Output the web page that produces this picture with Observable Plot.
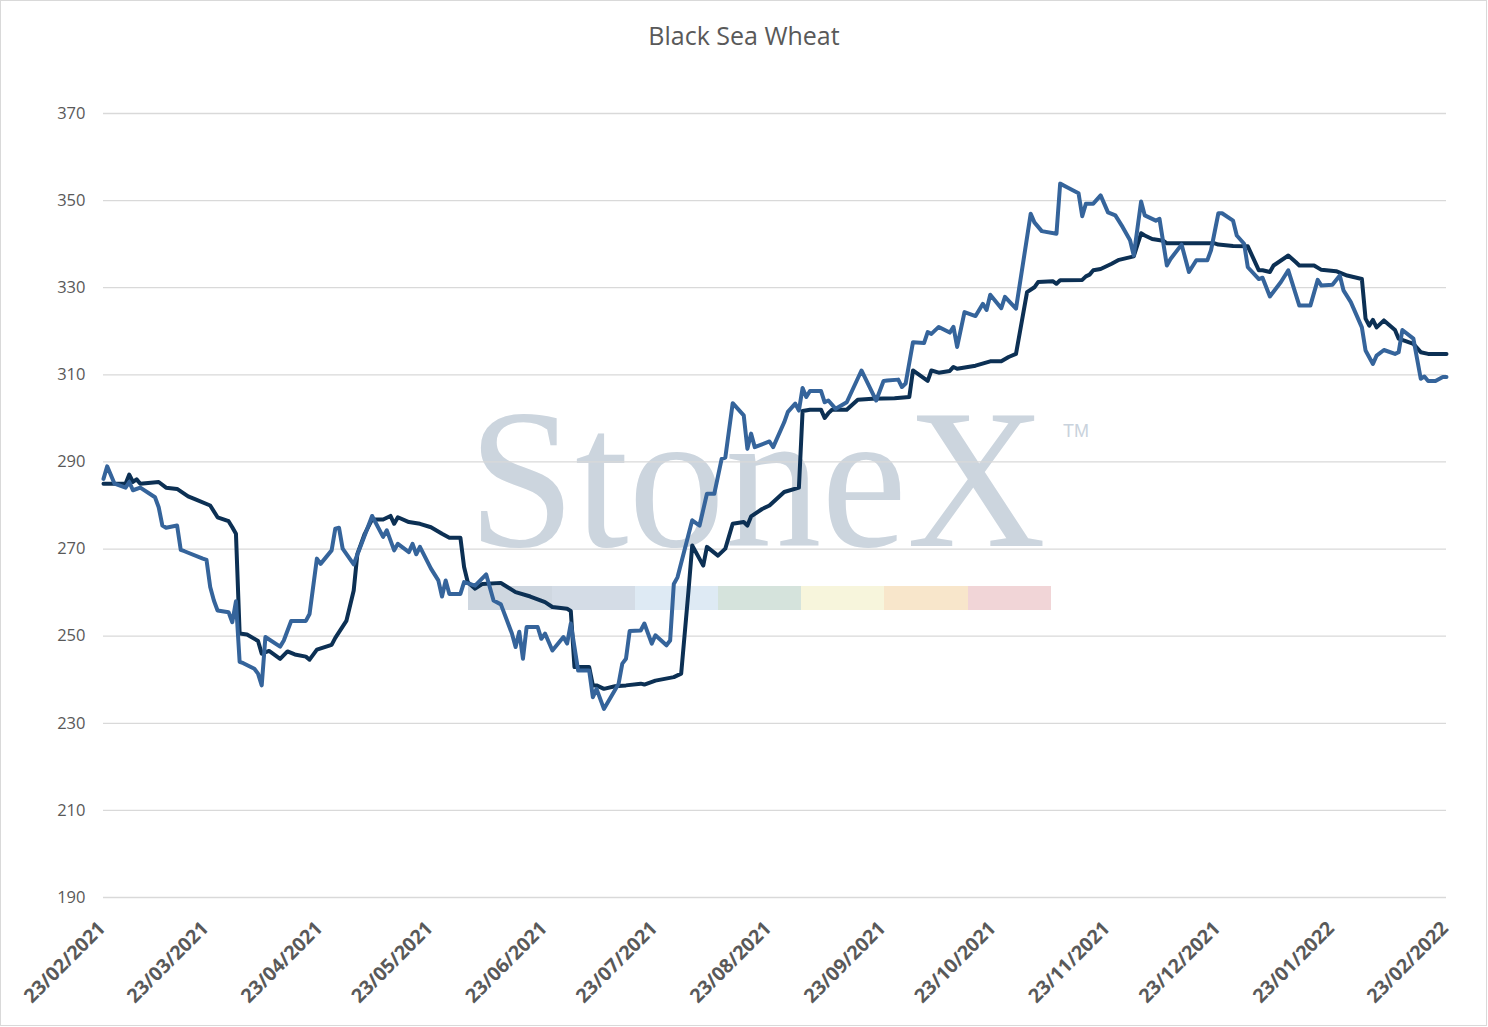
<!DOCTYPE html>
<html>
<head>
<meta charset="utf-8">
<script src="https://cdn.jsdelivr.net/npm/d3@7"></script>
<script src="https://cdn.jsdelivr.net/npm/@observablehq/plot@0.6"></script>
<style>
  html, body { margin: 0; padding: 0; background: #fff; }
  #wrap { position: relative; width: 1488px; height: 1027px; overflow: hidden; background: #fff; }
  #frame { position: absolute; left: 0; top: 0; width: 1487px; height: 1026px; box-sizing: border-box; border: 1px solid #d9d9d9; pointer-events: none; z-index: 3; }
  #wm { position: absolute; left: 0; top: 0; z-index: 0; }
  #title { position: relative; z-index: 2; height: 60px; box-sizing: border-box; padding-top: 23px; line-height: 25px;
           text-align: center; font-family: "Open Sans", sans-serif; font-size: 25px; color: #595959; }
  #chart { position: relative; z-index: 1; }
</style>
</head>
<body>
<div id="wrap">
  <svg id="wm" width="1488" height="1027">
    <text transform="translate(468,546) scale(0.963,1)" font-family="Liberation Serif, serif" font-size="200" fill="#ccd5de">StoneX</text>
    <text x="1063" y="437" font-family="Liberation Sans, sans-serif" font-size="18" fill="#c9d2dc">TM</text>
    <rect x="468" y="586" width="84" height="24" fill="#cfd7e0"/>
    <rect x="552" y="586" width="83" height="24" fill="#d4dce6"/>
    <rect x="635" y="586" width="83" height="24" fill="#deeaf4"/>
    <rect x="718" y="586" width="83" height="24" fill="#d5e3dc"/>
    <rect x="801" y="586" width="83" height="24" fill="#f7f5dc"/>
    <rect x="884" y="586" width="84" height="24" fill="#f8e6cb"/>
    <rect x="968" y="586" width="83" height="24" fill="#f1d5d7"/>
  </svg>
  <div id="title">Black Sea Wheat</div>
  <div id="chart"></div>
  <div id="frame"></div>
</div>
<script>
const titleText = "Black Sea Wheat";
const yTicks = [190, 210, 230, 250, 270, 290, 310, 330, 350, 370];
const xTickDates = ["2021-02-23","2021-03-23","2021-04-23","2021-05-23","2021-06-23","2021-07-23","2021-08-23","2021-09-23","2021-10-23","2021-11-23","2021-12-23","2022-01-23","2022-02-23"];
const xDomain = ["2021-02-23", "2022-02-23"];

// dark navy series
const seriesNavy = [
["2021-02-23",285.0],["2021-03-01",285.0],["2021-03-02",287.1],["2021-03-03",285.4],["2021-03-04",286.0],["2021-03-05",285.0],["2021-03-10",285.4],["2021-03-12",284.1],["2021-03-15",283.8],["2021-03-18",282.1],["2021-03-20",281.4],["2021-03-24",280.0],["2021-03-26",277.3],["2021-03-29",276.4],["2021-03-30",275.0],["2021-03-31",273.5],["2021-04-01",250.6],["2021-04-03",250.4],["2021-04-06",248.9],["2021-04-07",246.0],["2021-04-09",246.6],["2021-04-12",244.8],["2021-04-14",246.5],["2021-04-16",245.8],["2021-04-19",245.3],["2021-04-20",244.6],["2021-04-22",246.9],["2021-04-26",248.0],["2021-04-27",249.6],["2021-04-30",253.5],["2021-05-02",260.5],["2021-05-03",268.9],["2021-05-05",273.5],["2021-05-07",276.8],["2021-05-10",276.8],["2021-05-12",277.6],["2021-05-13",275.8],["2021-05-14",277.3],["2021-05-17",276.2],["2021-05-20",275.8],["2021-05-23",275.0],["2021-05-26",273.5],["2021-05-28",272.6],["2021-05-31",272.6],["2021-06-01",265.9],["2021-06-02",262.4],["2021-06-04",260.9],["2021-06-06",262.0],["2021-06-11",262.2],["2021-06-15",260.1],["2021-06-19",259.1],["2021-06-23",257.8],["2021-06-25",256.7],["2021-06-29",256.3],["2021-06-30",255.8],["2021-07-01",242.9],["2021-07-05",242.9],["2021-07-06",238.7],["2021-07-07",238.7],["2021-07-09",237.9],["2021-07-12",238.5],["2021-07-15",238.7],["2021-07-19",239.1],["2021-07-20",238.9],["2021-07-23",239.8],["2021-07-28",240.6],["2021-07-30",241.4],["2021-08-01",260.5],["2021-08-02",270.8],["2021-08-05",266.2],["2021-08-06",270.5],["2021-08-09",268.5],["2021-08-11",270.1],["2021-08-13",275.8],["2021-08-16",276.2],["2021-08-17",275.4],["2021-08-18",277.5],["2021-08-21",279.2],["2021-08-23",280.0],["2021-08-27",283.1],["2021-08-31",284.1],["2021-09-01",301.7],["2021-09-03",302.0],["2021-09-06",302.0],["2021-09-07",300.1],["2021-09-08",301.2],["2021-09-09",302.0],["2021-09-13",302.0],["2021-09-16",304.3],["2021-09-20",304.5],["2021-09-26",304.6],["2021-09-30",304.9],["2021-10-01",311.0],["2021-10-05",308.6],["2021-10-06",311.0],["2021-10-08",310.5],["2021-10-11",310.9],["2021-10-12",311.8],["2021-10-13",311.4],["2021-10-18",312.1],["2021-10-22",313.1],["2021-10-25",313.1],["2021-10-27",314.1],["2021-10-29",314.8],["2021-11-01",329.0],["2021-11-03",330.1],["2021-11-04",331.3],["2021-11-08",331.5],["2021-11-09",330.9],["2021-11-10",331.7],["2021-11-16",331.8],["2021-11-17",332.6],["2021-11-18",333.0],["2021-11-19",334.0],["2021-11-21",334.3],["2021-11-24",335.5],["2021-11-26",336.4],["2021-11-30",337.2],["2021-12-02",342.5],["2021-12-03",342.0],["2021-12-05",341.2],["2021-12-08",340.8],["2021-12-09",340.2],["2021-12-22",340.2],["2021-12-23",339.9],["2021-12-27",339.6],["2021-12-31",339.5],["2022-01-03",334.0],["2022-01-04",334.0],["2022-01-06",333.6],["2022-01-07",335.1],["2022-01-11",337.4],["2022-01-13",335.9],["2022-01-14",335.1],["2022-01-18",335.1],["2022-01-20",334.1],["2022-01-24",333.8],["2022-01-27",332.8],["2022-01-31",332.0],["2022-02-01",322.9],["2022-02-02",321.3],["2022-02-03",322.6],["2022-02-04",320.9],["2022-02-06",322.5],["2022-02-09",320.3],["2022-02-10",318.3],["2022-02-14",317.1],["2022-02-16",315.2],["2022-02-18",314.8],["2022-02-23",314.8]
];

// medium blue series
const seriesBlue = [
["2021-02-23",286.1],["2021-02-24",289.0],["2021-02-26",285.0],["2021-03-01",284.1],["2021-03-02",285.4],["2021-03-03",283.5],["2021-03-05",284.1],["2021-03-09",281.9],["2021-03-10",279.6],["2021-03-11",275.4],["2021-03-12",274.9],["2021-03-15",275.4],["2021-03-16",269.8],["2021-03-17",269.5],["2021-03-22",267.8],["2021-03-23",267.5],["2021-03-24",261.3],["2021-03-25",258.2],["2021-03-26",255.9],["2021-03-29",255.5],["2021-03-30",253.2],["2021-03-31",258.0],["2021-04-01",244.1],["2021-04-02",243.8],["2021-04-05",242.5],["2021-04-06",241.4],["2021-04-07",238.7],["2021-04-08",249.8],["2021-04-12",247.6],["2021-04-13",249.0],["2021-04-15",253.5],["2021-04-19",253.5],["2021-04-20",255.1],["2021-04-22",267.8],["2021-04-23",266.6],["2021-04-26",269.7],["2021-04-27",274.7],["2021-04-28",274.9],["2021-04-29",270.1],["2021-05-02",266.5],["2021-05-07",277.6],["2021-05-10",272.8],["2021-05-11",274.3],["2021-05-13",269.7],["2021-05-14",271.2],["2021-05-17",269.3],["2021-05-18",271.2],["2021-05-19",268.8],["2021-05-20",270.5],["2021-05-23",265.5],["2021-05-25",262.8],["2021-05-26",259.1],["2021-05-27",262.8],["2021-05-28",259.7],["2021-05-31",259.7],["2021-06-01",262.4],["2021-06-04",261.6],["2021-06-07",264.2],["2021-06-09",258.2],["2021-06-11",257.3],["2021-06-14",250.6],["2021-06-15",247.5],["2021-06-16",251.0],["2021-06-17",244.8],["2021-06-18",252.1],["2021-06-21",252.1],["2021-06-22",249.4],["2021-06-23",250.6],["2021-06-25",246.7],["2021-06-28",249.8],["2021-06-29",248.3],["2021-06-30",252.9],["2021-07-02",242.1],["2021-07-05",242.1],["2021-07-06",236.0],["2021-07-07",237.9],["2021-07-09",233.3],["2021-07-13",239.1],["2021-07-14",243.7],["2021-07-15",244.8],["2021-07-16",251.2],["2021-07-19",251.3],["2021-07-20",252.9],["2021-07-22",248.3],["2021-07-23",250.2],["2021-07-26",247.9],["2021-07-27",249.0],["2021-07-28",262.0],["2021-07-29",263.5],["2021-08-02",276.6],["2021-08-04",275.4],["2021-08-06",282.7],["2021-08-08",282.7],["2021-08-10",290.7],["2021-08-11",291.0],["2021-08-13",303.5],["2021-08-16",300.7],["2021-08-17",293.0],["2021-08-18",296.5],["2021-08-19",293.4],["2021-08-23",294.7],["2021-08-24",293.4],["2021-08-27",299.1],["2021-08-28",301.5],["2021-08-30",303.4],["2021-08-31",301.8],["2021-09-01",307.0],["2021-09-02",304.9],["2021-09-03",306.3],["2021-09-06",306.3],["2021-09-07",303.7],["2021-09-08",304.1],["2021-09-10",302.2],["2021-09-13",303.7],["2021-09-17",311.0],["2021-09-21",304.1],["2021-09-23",308.6],["2021-09-24",308.7],["2021-09-27",308.9],["2021-09-28",307.2],["2021-09-29",308.0],["2021-10-01",317.5],["2021-10-04",317.3],["2021-10-05",319.8],["2021-10-06",319.4],["2021-10-08",321.0],["2021-10-11",319.7],["2021-10-12",321.0],["2021-10-13",316.4],["2021-10-15",324.4],["2021-10-18",323.5],["2021-10-20",326.3],["2021-10-21",324.9],["2021-10-22",328.4],["2021-10-25",325.3],["2021-10-26",327.9],["2021-10-29",325.2],["2021-11-02",347.0],["2021-11-03",345.0],["2021-11-05",343.0],["2021-11-09",342.4],["2021-11-10",353.9],["2021-11-12",353.0],["2021-11-15",351.7],["2021-11-16",346.4],["2021-11-17",349.3],["2021-11-19",349.3],["2021-11-21",351.2],["2021-11-23",347.3],["2021-11-25",346.6],["2021-11-27",343.9],["2021-11-29",340.9],["2021-11-30",337.4],["2021-12-02",349.8],["2021-12-03",346.6],["2021-12-04",346.2],["2021-12-06",345.4],["2021-12-07",345.8],["2021-12-09",335.1],["2021-12-10",336.6],["2021-12-13",339.9],["2021-12-15",333.6],["2021-12-17",336.3],["2021-12-20",336.3],["2021-12-21",338.6],["2021-12-23",347.1],["2021-12-24",347.1],["2021-12-27",345.4],["2021-12-28",342.0],["2021-12-30",340.1],["2021-12-31",334.7],["2022-01-03",332.0],["2022-01-04",332.3],["2022-01-06",328.0],["2022-01-09",331.3],["2022-01-11",334.0],["2022-01-14",325.9],["2022-01-17",325.9],["2022-01-19",331.8],["2022-01-20",330.5],["2022-01-23",330.7],["2022-01-25",332.8],["2022-01-26",329.4],["2022-01-28",326.7],["2022-01-31",320.9],["2022-02-01",315.6],["2022-02-03",312.5],["2022-02-04",314.4],["2022-02-06",315.7],["2022-02-09",314.8],["2022-02-10",315.2],["2022-02-11",320.3],["2022-02-14",318.3],["2022-02-16",309.1],["2022-02-17",309.6],["2022-02-18",308.6],["2022-02-20",308.6],["2022-02-22",309.5],["2022-02-23",309.5]
];

const parse = d3.utcParse("%Y-%m-%d");
const fmt = d3.utcFormat("%d/%m/%Y");
const toRows = (arr) => arr.map(([d, v]) => ({date: parse(d), value: v}));
const navyRows = toRows(seriesNavy);
const blueRows = toRows(seriesBlue);
const xTicks = xTickDates.map(parse);

document.getElementById("title").textContent = titleText;

const chart = Plot.plot({
  width: 1488,
  height: 967,
  marginTop: 53,
  marginBottom: 130,
  marginLeft: 103,
  marginRight: 42,
  style: {background: "transparent", fontFamily: "'Open Sans', sans-serif", color: "#595959"},
  x: {type: "utc", domain: xDomain.map(parse), axis: null},
  y: {domain: [190, 370], axis: null},
  marks: [
    Plot.gridY(yTicks, {stroke: "#d9d9d9", strokeOpacity: 1, strokeWidth: 1.3}),
    Plot.axisY(yTicks, {tickSize: 0, tickPadding: 18, fontSize: 16.5, label: null, fill: "#595959"}),
    Plot.text(xTicks, {
      x: d => d, frameAnchor: "bottom", text: d => fmt(d),
      rotate: -45, textAnchor: "end", lineAnchor: "bottom",
      dx: 3, dy: 32, fontSize: 19.5, fontWeight: "bold", fill: "#595959"
    }),
    Plot.lineY(navyRows, {x: "date", y: "value", stroke: "#0c3054", strokeWidth: 4, strokeLinejoin: "round"}),
    Plot.lineY(blueRows, {x: "date", y: "value", stroke: "#35649b", strokeWidth: 4, strokeLinejoin: "round"})
  ]
});
document.getElementById("chart").appendChild(chart);
</script>
</body>
</html>
